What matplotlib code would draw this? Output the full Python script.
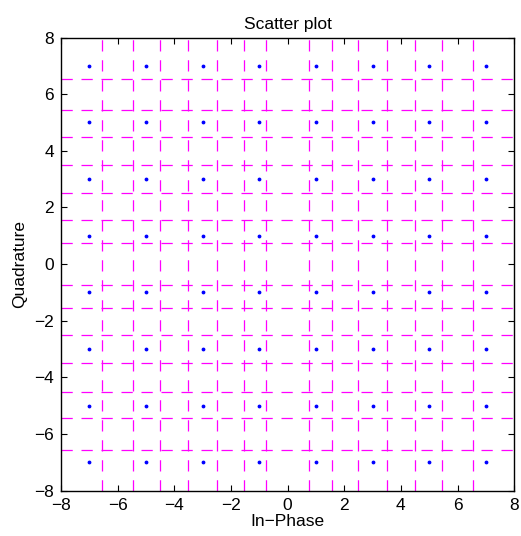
import matplotlib
matplotlib.use('Agg')
import matplotlib.pyplot as plt
import numpy as np

''' Data '''
levels = [-7, -5, -3, -1, 1, 3, 5, 7]
boundaries = [-6.55, -5.45, -4.5, -3.5, -2.5, -1.55, -0.75,
              0.75, 1.55, 2.5, 3.5, 4.5, 5.45, 6.55]
ticks = [-8, -6, -4, -2, 0, 2, 4, 6, 8]

in_phase = [i for i in levels for q in levels]
quadrature = [q for i in levels for q in levels]

plt.rcParams['font.family'] = ['Liberation Sans', 'DejaVu Sans']

fig = plt.figure(figsize=(5.21, 5.36), dpi=100)
ax = fig.add_axes([0.117, 0.0845, 0.870, 0.8455])

# boundary lines
for b in boundaries:
    ax.plot([b, b], [-8, 8], color=(1, 0, 1), lw=0.9, dashes=(9, 7))
    ax.plot([-8, 8], [b, b], color=(1, 0, 1), lw=0.9, dashes=(9, 7))

ax.plot(in_phase, quadrature, '.', color='blue', markersize=3.5)

ax.set_xlim(-8, 8)
ax.set_ylim(-8, 8)
ax.set_xticks(ticks)
ax.set_yticks(ticks)
ax.tick_params(direction='in', length=4, width=0.8, labelsize=12.5,
               top=True, right=True, pad=5)
for s in ax.spines.values():
    s.set_linewidth(1.0)

ax.set_xlabel('In\u2212Phase', fontsize=12.5, labelpad=1)
ax.set_ylabel('Quadrature', fontsize=12.5, labelpad=5)
ax.set_title('Scatter plot', fontsize=12.5, pad=6)

fig.savefig('out.png', dpi=100)
